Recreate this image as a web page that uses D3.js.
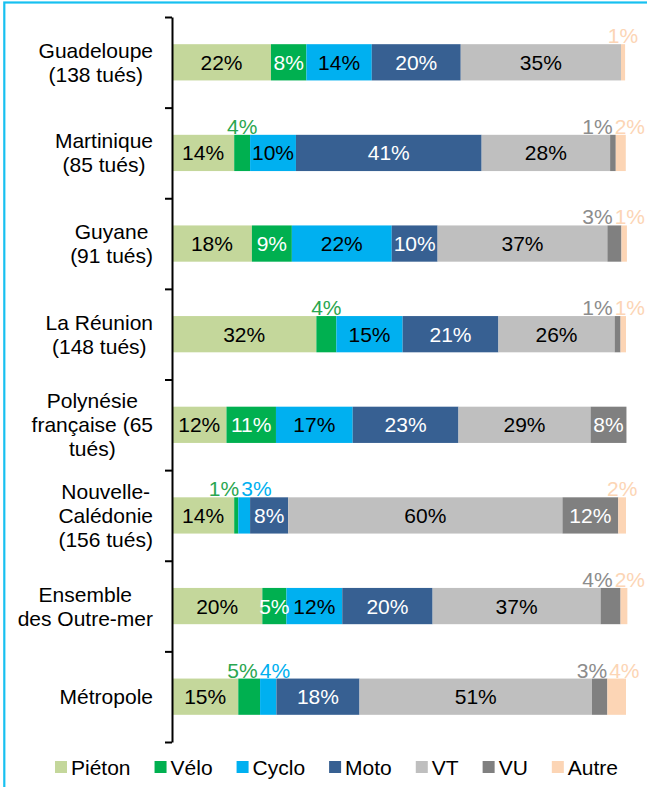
<!DOCTYPE html>
<html>
<head>
<meta charset="utf-8">
<script src="https://cdn.jsdelivr.net/npm/d3@7"></script>
<style>
  body { margin: 0; background: #fff; }
  svg { display: block; font-family: "Liberation Sans", Arial, sans-serif; }
</style>
</head>
<body>
<svg></svg>
<script>
var width = 647
var height = 787

var categories = [
    "Guadeloupe\n(138 tués)",
    "Martinique\n(85 tués)",
    "Guyane\n(91 tués)",
    "La Réunion\n(148 tués)",
    "Polynésie\nfrançaise (65\ntués)",
    "Nouvelle-\nCalédonie\n(156 tués)",
    "Ensemble\ndes Outre-mer",
    "Métropole"
]

var seriesNames = ["Piéton", "Vélo", "Cyclo", "Moto", "VT", "VU", "Autre"]

// shares in %, one value per category
var pieton = [21.8, 13.7, 17.6, 31.8, 12.0, 13.7, 19.9, 14.6]
var velo   = [7.8, 3.5, 8.8, 4.4, 10.9, 0.9, 5.3, 4.8]
var cyclo  = [14.4, 10.1, 22.0, 14.6, 16.9, 2.6, 12.3, 3.6]
var moto   = [19.6, 40.9, 10.1, 21.1, 23.3, 8.4, 19.9, 18.3]
var vt     = [35.3, 28.3, 37.4, 25.6, 29.1, 60.4, 37.0, 51.2]
var vu     = [0, 1.25, 3.1, 1.3, 7.9, 12.3, 4.4, 3.4]
var autre  = [0.9, 2.2, 1.2, 1.2, 0, 1.7, 1.5, 4.1]

var seriesValues = [pieton, velo, cyclo, moto, vt, vu, autre]

var colors = ["#c4d79b", "#00b050", "#00b0f0", "#376092", "#bfbfbf", "#808080", "#fcd5b5"]
var insideText = ["#000", "#fff", "#000", "#fff", "#000", "#fff", "#000"]
var outsideText = ["#000", "#2aa650", "#00b0f0", "#fff", "#000", "#8c8c8c", "#fcd5b5"]

var fontSize = 21
var plotLeft = 172
var plotRight = 626
var plotTop = 17
var plotBottom = 742

var svg = d3.select("svg")
    .attr("width", width)
    .attr("height", height)

// frame (only top and left edges visible)
svg.append("rect")
    .attr("x", 4.3)
    .attr("y", 2.5)
    .attr("width", width + 40)
    .attr("height", height + 40)
    .attr("fill", "none")
    .attr("stroke", "#17c0f0")
    .attr("stroke-width", 2.2)

var xScale = d3.scaleLinear()
    .domain([0, 100])
    .range([plotLeft, plotRight])

var yScale = d3.scaleBand()
    .domain(categories)
    .range([plotTop, plotBottom])
    .paddingInner(0.6)
    .paddingOuter(0.3)

// boundaries between categories, for the axis ticks
var tickScale = d3.scaleLinear()
    .domain([0, categories.length])
    .range([plotTop, plotBottom])

var rows = categories.map(function (c, i) {
    var x0 = 0
    var segs = seriesValues.map(function (vals, s) {
        var seg = { cat: c, s: s, v: vals[i], x0: x0, x1: x0 + vals[i] }
        x0 += vals[i]
        return seg
    })
    return { cat: c, segs: segs }
})

var rowG = svg.selectAll("g.row")
    .data(rows)
    .enter()
    .append("g")
    .attr("class", "row")

rowG.selectAll("rect")
    .data(d => d.segs.filter(s => s.v > 0))
    .enter()
    .append("rect")
    .attr("x", d => xScale(d.x0))
    .attr("y", d => yScale(d.cat))
    .attr("width", d => xScale(d.x1) - xScale(d.x0))
    .attr("height", yScale.bandwidth())
    .attr("fill", d => colors[d.s])

// labels inside the bar
rowG.selectAll("text.in")
    .data(d => d.segs.filter(s => s.v >= 5))
    .enter()
    .append("text")
    .attr("class", "in")
    .attr("x", d => (xScale(d.x0) + xScale(d.x1)) / 2)
    .attr("y", d => yScale(d.cat) + yScale.bandwidth() / 2)
    .attr("dy", "0.36em")
    .attr("text-anchor", "middle")
    .attr("font-size", fontSize)
    .attr("fill", d => insideText[d.s])
    .text(d => Math.round(d.v) + "%")

// small shares: labels above the bar, pushed apart when they collide
rowG.each(function (row) {
    var g = d3.select(this)
    var small = row.segs.filter(s => s.v > 0 && s.v < 5)
    var labels = small.map(function (s) {
        var t = g.append("text")
            .attr("font-size", fontSize)
            .attr("fill", outsideText[s.s])
            .attr("y", yScale(row.cat) - 1)
            .text(Math.round(s.v) + "%")
        return { t: t, c: (xScale(s.x0) + xScale(s.x1)) / 2, w: t.node().getComputedTextLength() }
    })
    var clusters = labels.map(l => ({ items: [l], c: l.c, w: l.w }))
    var limit = width - 2
    var merged = true
    while (merged) {
        merged = false
        clusters.forEach(function (cl) {
            cl.l = cl.c - cl.w / 2
        })
        var last = clusters[clusters.length - 1]
        if (last && last.l + last.w > limit) last.l = limit - last.w
        for (var i = 0; i < clusters.length - 1; i++) {
            var a = clusters[i], b = clusters[i + 1]
            if (a.l + a.w > b.l) {
                var items = a.items.concat(b.items)
                var nc = {
                    items: items,
                    c: d3.mean(items, d => d.c),
                    w: d3.sum(items, d => d.w) + (items.length - 1) * 2
                }
                clusters.splice(i, 2, nc)
                merged = true
                break
            }
        }
    }
    clusters.forEach(function (cl) {
        var x = cl.l
        cl.items.forEach(function (it) {
            it.t.attr("x", x)
            x += it.w + 2
        })
    })
})

// vertical axis with ticks between categories
svg.append("g")
    .attr("transform", `translate(${plotLeft}, 0)`)
    .call(d3.axisLeft(tickScale)
        .tickValues(d3.range(categories.length + 1))
        .tickFormat("")
        .tickSize(7)
        .tickSizeOuter(0))
    .call(g => g.select(".domain").attr("stroke", "#000").attr("stroke-width", 2))
    .call(g => g.selectAll(".tick line").attr("stroke", "#000").attr("stroke-width", 2))

// category labels: lines centred inside a block whose right edge sits near the axis
var lineH = 24
var labelRight = plotLeft - 19
svg.selectAll("text.cat")
    .data(categories)
    .enter()
    .append("text")
    .attr("class", "cat")
    .attr("text-anchor", "middle")
    .attr("font-size", fontSize)
    .attr("fill", "#000")
    .each(function (c) {
        var lines = c.split("\n")
        var cy = yScale(c) + yScale.bandwidth() / 2
        var y0 = cy - (lines.length - 1) * lineH / 2
        var spans = d3.select(this).selectAll("tspan")
            .data(lines)
            .enter()
            .append("tspan")
            .attr("y", (d, i) => y0 + i * lineH)
            .attr("dy", "0.36em")
            .text(d => d)
        var maxW = d3.max(spans.nodes(), n => n.getComputedTextLength())
        spans.attr("x", labelRight - maxW / 2)
    })

// legend
var legend = svg.append("g")
var lx = 55
var ly = 767
seriesNames.forEach(function (name, i) {
    var item = legend.append("g")
    item.append("rect")
        .attr("x", lx)
        .attr("y", ly - 6)
        .attr("width", 12)
        .attr("height", 12)
        .attr("fill", colors[i])
    var t = item.append("text")
        .attr("x", lx + 16)
        .attr("y", ly)
        .attr("dy", "0.36em")
        .attr("font-size", fontSize)
        .attr("fill", "#000")
        .text(name)
    lx += 16 + t.node().getComputedTextLength() + 24
})
</script>
</body>
</html>
